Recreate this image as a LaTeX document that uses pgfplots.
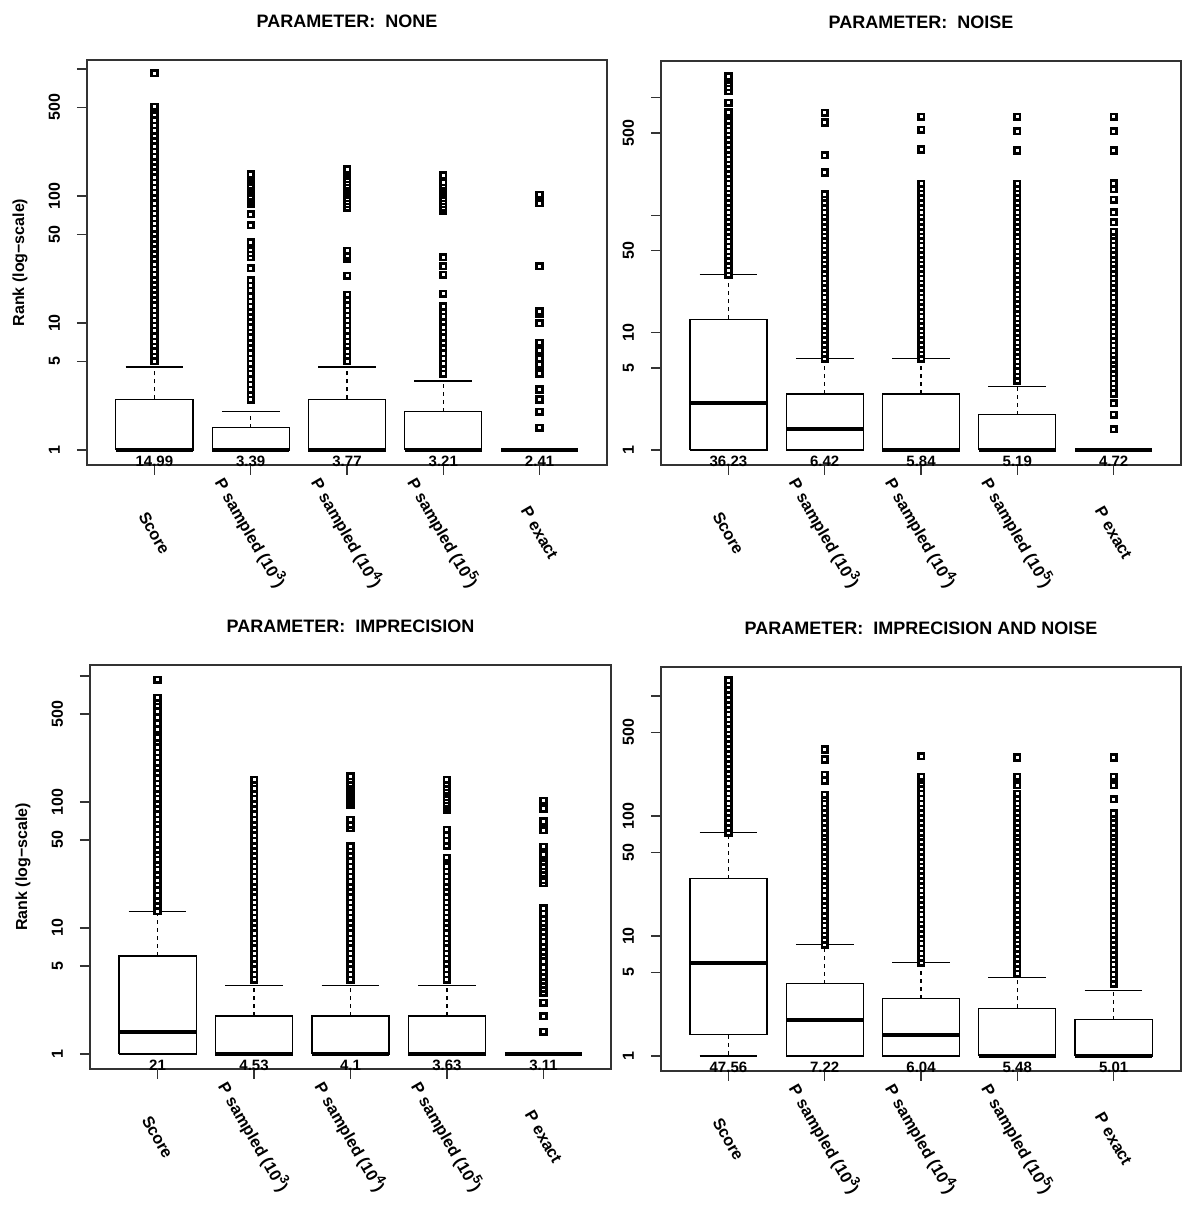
\documentclass[border=0pt]{standalone}
\usepackage{fontspec}
\setmainfont{Liberation Sans}
\usepackage{pgfplots}
\pgfplotsset{compat=1.18}
\newcommand\fs[1]{\bfseries\fontsize{#1}{#1}\selectfont}
\newcommand\supx[1]{\raisebox{0.45em}{\fontsize{6.5}{6.5}\selectfont #1}}
\pgfplotsset{
  rkax/.style={scale only axis, xmin=0.3, xmax=5.7, xtick={1,2,3,4,5},
    xticklabels={Score, P sampled (10\supx{3}), P sampled (10\supx{4}), P sampled (10\supx{5}), P exact},
    ytick={1,5,10,50,100,500,1000},
    yminorticks=false, tick align=outside, major tick length=5pt,
    xtick pos=left, ytick pos=left,
    axis line style={line width=0.6pt, black!80},
    major tick style={line width=0.6pt, black!80},
    xticklabel style={yshift=-29pt, rotate=-60, anchor=center, font=\fs{8.2}},
    yticklabel style={xshift=-5pt, rotate=90, anchor=south, font=\fs{8}},
    clip=false},
  outl/.style={only marks, mark=square*, mark size=1.4pt, mark options={fill=white, draw=black, line width=1.3pt, solid}},
  bxs/.style={black, line width=0.6pt, solid, mark=none},
  med/.style={black, line width=2pt, mark=none},
  whs/.style={black, line width=0.6pt, mark=none, dash pattern=on 2pt off 2pt},
}
\newcommand\means[5]{%
  \node[font=\fs{7.5}, yshift=-5.5pt] at (axis cs:1,1) {#1};
  \node[font=\fs{7.5}, yshift=-5.5pt] at (axis cs:2,1) {#2};
  \node[font=\fs{7.5}, yshift=-5.5pt] at (axis cs:3,1) {#3};
  \node[font=\fs{7.5}, yshift=-5.5pt] at (axis cs:4,1) {#4};
  \node[font=\fs{7.5}, yshift=-5.5pt] at (axis cs:5,1) {#5};
}
\newcommand\ttl[1]{\node[font=\fs{9}, yshift=19.5pt] at (rel axis cs:0.5,1) {#1};}
\newcommand\ylab{\node[font=\fs{8}, xshift=-33.5pt, rotate=90] at (rel axis cs:0,0.5) {Rank (log−scale)};}
\begin{document}
\begin{tikzpicture}
% ---------------- top left: NONE
\begin{axis}[rkax, ymode=log, at={(43.5pt,372pt)}, anchor=south west, width=260pt, height=202.5pt,
  ymin=0.762, ymax=1178, yticklabels={1,5,10,50,100,500,{}}]
\addplot[whs] coordinates {(1,2.5) (1,4.5)};
\addplot[bxs] coordinates {(0.7,4.5) (1.3,4.5)};
\addplot[bxs] coordinates {(0.6,1) (1.4,1) (1.4,2.5) (0.6,2.5) (0.6,1)};
\addplot[med] coordinates {(0.6,1) (1.4,1)};
\addplot[whs] coordinates {(2,1.5) (2,2)};
\addplot[bxs] coordinates {(1.7,2) (2.3,2)};
\addplot[bxs] coordinates {(1.6,1) (2.4,1) (2.4,1.5) (1.6,1.5) (1.6,1)};
\addplot[med] coordinates {(1.6,1) (2.4,1)};
\addplot[whs] coordinates {(3,2.5) (3,4.5)};
\addplot[bxs] coordinates {(2.7,4.5) (3.3,4.5)};
\addplot[bxs] coordinates {(2.6,1) (3.4,1) (3.4,2.5) (2.6,2.5) (2.6,1)};
\addplot[med] coordinates {(2.6,1) (3.4,1)};
\addplot[whs] coordinates {(4,2) (4,3.5)};
\addplot[bxs] coordinates {(3.7,3.5) (4.3,3.5)};
\addplot[bxs] coordinates {(3.6,1) (4.4,1) (4.4,2) (3.6,2) (3.6,1)};
\addplot[med] coordinates {(3.6,1) (4.4,1)};
\addplot[med] coordinates {(4.6,1) (5.4,1)};
\addplot[outl] coordinates {(1,5) (1,5.5) (1,6) (1,6.6) (1,7.2) (1,7.9) (1,8.7) (1,9.6) (1,10.5) (1,11.5) (1,12.6) (1,13.8) (1,15.2) (1,16.7) (1,18.3) (1,20) (1,22) (1,24) (1,26.5) (1,29) (1,32) (1,35) (1,38.5) (1,42) (1,46) (1,50.5) (1,55.5) (1,61) (1,67) (1,73) (1,80) (1,88) (1,97) (1,106) (1,117) (1,128) (1,141) (1,155) (1,170) (1,187) (1,205) (1,225) (1,247) (1,272) (1,298) (1,328) (1,360) (1,395) (1,435) (1,478) (1,505) (1,930)};
\addplot[outl] coordinates {(2,2.5) (2,2.75) (2,3) (2,3.3) (2,3.6) (2,4) (2,4.4) (2,4.8) (2,5.3) (2,5.8) (2,6.4) (2,7) (2,7.7) (2,8.5) (2,9.3) (2,10.2) (2,11.2) (2,12.3) (2,13.5) (2,14.8) (2,16.3) (2,18) (2,19.8) (2,21.8) (2,27) (2,33) (2,35.5) (2,38) (2,41) (2,43) (2,59) (2,72) (2,86) (2,90) (2,95) (2,100) (2,105) (2,110) (2,116) (2,122) (2,128) (2,135) (2,142) (2,149)};
\addplot[outl] coordinates {(3,5) (3,5.5) (3,6) (3,6.6) (3,7.2) (3,7.9) (3,8.7) (3,9.6) (3,10.5) (3,11.5) (3,12.6) (3,13.8) (3,15.2) (3,16.7) (3,23.5) (3,32) (3,34) (3,37) (3,81) (3,86) (3,91) (3,96) (3,102) (3,108) (3,114) (3,121) (3,128) (3,136) (3,144) (3,153) (3,162)};
\addplot[outl] coordinates {(4,4) (4,4.4) (4,4.8) (4,5.3) (4,5.8) (4,6.4) (4,7) (4,7.7) (4,8.5) (4,9.3) (4,10.2) (4,11.2) (4,12.4) (4,13.5) (4,17) (4,24) (4,28) (4,33) (4,77) (4,81) (4,86) (4,91) (4,96) (4,102) (4,108) (4,114) (4,121) (4,128) (4,146)};
\addplot[outl] coordinates {(5,1.5) (5,2) (5,2.5) (5,3) (5,4) (5,4.7) (5,5.3) (5,6.1) (5,7) (5,10) (5,11.9) (5,12.4) (5,28) (5,88) (5,102)};
\means{14.99}{3.39}{3.77}{3.21}{2.41}
\ttl{PARAMETER:\ \ NONE}
\ylab
\end{axis}
% ---------------- top right: NOISE
\begin{axis}[rkax, ymode=log, at={(330.5pt,372pt)}, anchor=south west, width=260pt, height=202pt,
  ymin=0.745, ymax=2057, yticklabels={1,5,10,50,{},500,{}}]
\addplot[whs] coordinates {(1,13) (1,31)};
\addplot[bxs] coordinates {(0.7,31) (1.3,31)};
\addplot[bxs] coordinates {(0.6,1) (1.4,1) (1.4,13) (0.6,13) (0.6,1)};
\addplot[med] coordinates {(0.6,2.5) (1.4,2.5)};
\addplot[whs] coordinates {(2,3) (2,6)};
\addplot[bxs] coordinates {(1.7,6) (2.3,6)};
\addplot[bxs] coordinates {(1.6,1) (2.4,1) (2.4,3) (1.6,3) (1.6,1)};
\addplot[med] coordinates {(1.6,1.5) (2.4,1.5)};
\addplot[whs] coordinates {(3,3) (3,6)};
\addplot[bxs] coordinates {(2.7,6) (3.3,6)};
\addplot[bxs] coordinates {(2.6,1) (3.4,1) (3.4,3) (2.6,3) (2.6,1)};
\addplot[med] coordinates {(2.6,1) (3.4,1)};
\addplot[whs] coordinates {(4,2) (4,3.5)};
\addplot[bxs] coordinates {(3.7,3.5) (4.3,3.5)};
\addplot[bxs] coordinates {(3.6,1) (4.4,1) (4.4,2) (3.6,2) (3.6,1)};
\addplot[med] coordinates {(3.6,1) (4.4,1)};
\addplot[med] coordinates {(4.6,1) (5.4,1)};
\addplot[outl] coordinates {(1,31) (1,34) (1,37.5) (1,41) (1,45) (1,49.5) (1,54.5) (1,60) (1,66) (1,72.5) (1,80) (1,88) (1,97) (1,106) (1,117) (1,128) (1,141) (1,155) (1,170) (1,187) (1,206) (1,226) (1,249) (1,273) (1,300) (1,330) (1,363) (1,400) (1,440) (1,483) (1,530) (1,585) (1,640) (1,705) (1,750) (1,908) (1,1140) (1,1230) (1,1330) (1,1430) (1,1520)};
\addplot[outl] coordinates {(2,6) (2,6.6) (2,7.2) (2,7.9) (2,8.7) (2,9.6) (2,10.5) (2,11.5) (2,12.6) (2,13.8) (2,15.2) (2,16.7) (2,18.3) (2,20) (2,22) (2,24) (2,26.5) (2,29) (2,32) (2,35) (2,38.5) (2,42) (2,46) (2,50.5) (2,55.5) (2,61) (2,67) (2,73) (2,80) (2,88) (2,97) (2,106) (2,117) (2,128) (2,141) (2,151) (2,231) (2,324) (2,616) (2,746)};
\addplot[outl] coordinates {(3,6) (3,6.6) (3,7.2) (3,7.9) (3,8.7) (3,9.6) (3,10.5) (3,11.5) (3,12.6) (3,13.8) (3,15.2) (3,16.7) (3,18.3) (3,20) (3,22) (3,24) (3,26.5) (3,29) (3,32) (3,35) (3,38.5) (3,42) (3,46) (3,50.5) (3,55.5) (3,61) (3,67) (3,73) (3,80) (3,88) (3,97) (3,106) (3,117) (3,128) (3,141) (3,155) (3,170) (3,185) (3,363) (3,532) (3,690)};
\addplot[outl] coordinates {(4,3.9) (4,4.3) (4,4.7) (4,5.2) (4,5.7) (4,6.3) (4,6.9) (4,7.6) (4,8.3) (4,9.1) (4,10) (4,11) (4,12.1) (4,13.3) (4,14.6) (4,16) (4,17.6) (4,19.4) (4,21.3) (4,23.4) (4,25.7) (4,28.3) (4,31) (4,34) (4,37.5) (4,41) (4,45) (4,49.5) (4,54.5) (4,60) (4,66) (4,72.5) (4,80) (4,88) (4,97) (4,106) (4,117) (4,128) (4,141) (4,155) (4,170) (4,185) (4,355) (4,520) (4,690)};
\addplot[outl] coordinates {(5,1.5) (5,2) (5,2.5) (5,3) (5,3.4) (5,3.7) (5,4.1) (5,4.5) (5,4.9) (5,5.4) (5,5.9) (5,6.5) (5,7.1) (5,7.8) (5,8.6) (5,9.4) (5,10.3) (5,11.3) (5,12.4) (5,13.6) (5,15) (5,16.5) (5,18) (5,20) (5,22) (5,24) (5,26.5) (5,29) (5,32) (5,35) (5,38.5) (5,42) (5,46) (5,50.5) (5,55.5) (5,61) (5,67) (5,72) (5,87) (5,106) (5,135) (5,166) (5,186) (5,355) (5,520) (5,690)};
\means{36.23}{6.42}{5.84}{5.19}{4.72}
\ttl{PARAMETER:\ \ NOISE}
\end{axis}
% ---------------- bottom left: IMPRECISION
\begin{axis}[rkax, ymode=log, at={(45pt,70pt)}, anchor=south west, width=260.5pt, height=202pt,
  ymin=0.76, ymax=1222, yticklabels={1,5,10,50,100,500,{}}]
\addplot[whs] coordinates {(1,6) (1,13.6)};
\addplot[bxs] coordinates {(0.7,13.6) (1.3,13.6)};
\addplot[bxs] coordinates {(0.6,1) (1.4,1) (1.4,6) (0.6,6) (0.6,1)};
\addplot[med] coordinates {(0.6,1.5) (1.4,1.5)};
\addplot[whs] coordinates {(2,2) (2,3.5)};
\addplot[bxs] coordinates {(1.7,3.5) (2.3,3.5)};
\addplot[bxs] coordinates {(1.6,1) (2.4,1) (2.4,2) (1.6,2) (1.6,1)};
\addplot[med] coordinates {(1.6,1) (2.4,1)};
\addplot[whs] coordinates {(3,2) (3,3.5)};
\addplot[bxs] coordinates {(2.7,3.5) (3.3,3.5)};
\addplot[bxs] coordinates {(2.6,1) (3.4,1) (3.4,2) (2.6,2) (2.6,1)};
\addplot[med] coordinates {(2.6,1) (3.4,1)};
\addplot[whs] coordinates {(4,2) (4,3.5)};
\addplot[bxs] coordinates {(3.7,3.5) (4.3,3.5)};
\addplot[bxs] coordinates {(3.6,1) (4.4,1) (4.4,2) (3.6,2) (3.6,1)};
\addplot[med] coordinates {(3.6,1) (4.4,1)};
\addplot[med] coordinates {(4.6,1) (5.4,1)};
\addplot[outl] coordinates {(1,13.6) (1,15) (1,16.5) (1,18) (1,20) (1,22) (1,24) (1,26.5) (1,29) (1,32) (1,35) (1,38.5) (1,42) (1,46) (1,50.5) (1,55.5) (1,61) (1,67) (1,73) (1,80) (1,88) (1,97) (1,106) (1,117) (1,128) (1,141) (1,155) (1,170) (1,187) (1,206) (1,226) (1,249) (1,273) (1,300) (1,322) (1,375) (1,420) (1,470) (1,520) (1,580) (1,630) (1,670) (1,935)};
\addplot[outl] coordinates {(2,3.9) (2,4.3) (2,4.7) (2,5.2) (2,5.7) (2,6.3) (2,6.9) (2,7.6) (2,8.3) (2,9.1) (2,10) (2,11) (2,12.1) (2,13.3) (2,14.6) (2,16) (2,17.6) (2,19.4) (2,21.3) (2,23.4) (2,25.7) (2,28.3) (2,31) (2,34) (2,37.5) (2,41) (2,45) (2,49.5) (2,54.5) (2,60) (2,66) (2,72.5) (2,80) (2,88) (2,97) (2,106) (2,117) (2,128) (2,141) (2,150)};
\addplot[outl] coordinates {(3,3.9) (3,4.3) (3,4.7) (3,5.2) (3,5.7) (3,6.3) (3,6.9) (3,7.6) (3,8.3) (3,9.1) (3,10) (3,11) (3,12.1) (3,13.3) (3,14.6) (3,16) (3,17.6) (3,19.4) (3,21.3) (3,23.4) (3,25.7) (3,28.3) (3,31) (3,34) (3,37.5) (3,41) (3,44.5) (3,62) (3,66) (3,72) (3,95) (3,100) (3,106) (3,112) (3,118) (3,125) (3,132) (3,140) (3,150) (3,160)};
\addplot[outl] coordinates {(4,3.9) (4,4.3) (4,4.7) (4,5.2) (4,5.7) (4,6.3) (4,6.9) (4,7.6) (4,8.3) (4,9.1) (4,10) (4,11) (4,12.1) (4,13.3) (4,14.6) (4,16) (4,17.6) (4,19.4) (4,21.3) (4,23.4) (4,25.7) (4,28.3) (4,31) (4,36) (4,45) (4,49.5) (4,54.5) (4,60) (4,87) (4,92) (4,97) (4,103) (4,109) (4,116) (4,123) (4,131) (4,140) (4,150)};
\addplot[outl] coordinates {(5,1.5) (5,2) (5,2.54) (5,3.05) (5,3.3) (5,3.55) (5,3.8) (5,4.1) (5,4.5) (5,4.9) (5,5.4) (5,6) (5,6.5) (5,7.1) (5,7.8) (5,8.6) (5,9.3) (5,10.2) (5,11) (5,12) (5,13) (5,14.4) (5,22.7) (5,24) (5,26) (5,27.3) (5,29) (5,31) (5,33.7) (5,36) (5,38) (5,42.5) (5,44) (5,59.6) (5,70) (5,88) (5,102)};
\means{21}{4.53}{4.1}{3.63}{3.11}
\ttl{PARAMETER:\ \ IMPRECISION}
\ylab
\end{axis}
% ---------------- bottom right: IMPRECISION AND NOISE
\begin{axis}[rkax, ymode=log, at={(330.5pt,69pt)}, anchor=south west, width=260pt, height=202pt,
  ymin=0.75, ymax=1746, yticklabels={1,5,10,50,100,500,{}}]
\addplot[whs] coordinates {(1,30) (1,73)};
\addplot[bxs] coordinates {(0.7,73) (1.3,73)};
\addplot[whs] coordinates {(1,1.5) (1,1)};
\addplot[bxs] coordinates {(0.7,1) (1.3,1)};
\addplot[bxs] coordinates {(0.6,1.5) (1.4,1.5) (1.4,30) (0.6,30) (0.6,1.5)};
\addplot[med] coordinates {(0.6,6) (1.4,6)};
\addplot[whs] coordinates {(2,4) (2,8.5)};
\addplot[bxs] coordinates {(1.7,8.5) (2.3,8.5)};
\addplot[bxs] coordinates {(1.6,1) (2.4,1) (2.4,4) (1.6,4) (1.6,1)};
\addplot[med] coordinates {(1.6,2) (2.4,2)};
\addplot[whs] coordinates {(3,3) (3,6)};
\addplot[bxs] coordinates {(2.7,6) (3.3,6)};
\addplot[bxs] coordinates {(2.6,1) (3.4,1) (3.4,3) (2.6,3) (2.6,1)};
\addplot[med] coordinates {(2.6,1.5) (3.4,1.5)};
\addplot[whs] coordinates {(4,2.5) (4,4.5)};
\addplot[bxs] coordinates {(3.7,4.5) (4.3,4.5)};
\addplot[bxs] coordinates {(3.6,1) (4.4,1) (4.4,2.5) (3.6,2.5) (3.6,1)};
\addplot[med] coordinates {(3.6,1) (4.4,1)};
\addplot[whs] coordinates {(5,2) (5,3.5)};
\addplot[bxs] coordinates {(4.7,3.5) (5.3,3.5)};
\addplot[bxs] coordinates {(4.6,1) (5.4,1) (5.4,2) (4.6,2) (4.6,1)};
\addplot[med] coordinates {(4.6,1) (5.4,1)};
\addplot[outl] coordinates {(1,73) (1,80) (1,88) (1,97) (1,106) (1,117) (1,128) (1,141) (1,155) (1,170) (1,187) (1,206) (1,226) (1,249) (1,273) (1,300) (1,330) (1,363) (1,400) (1,440) (1,483) (1,530) (1,585) (1,640) (1,705) (1,775) (1,850) (1,935) (1,1030) (1,1130) (1,1240) (1,1360)};
\addplot[outl] coordinates {(2,8.5) (2,9.3) (2,10.2) (2,11.2) (2,12.3) (2,13.5) (2,14.8) (2,16.3) (2,18) (2,19.8) (2,21.8) (2,24) (2,26.5) (2,29) (2,32) (2,35) (2,38.5) (2,42) (2,46) (2,50.5) (2,55.5) (2,61) (2,67) (2,73) (2,80) (2,88) (2,97) (2,106) (2,117) (2,128) (2,141) (2,150) (2,197) (2,220) (2,296) (2,359)};
\addplot[outl] coordinates {(3,6) (3,6.6) (3,7.2) (3,7.9) (3,8.7) (3,9.6) (3,10.5) (3,11.5) (3,12.6) (3,13.8) (3,15.2) (3,16.7) (3,18.3) (3,20) (3,22) (3,24) (3,26.5) (3,29) (3,32) (3,35) (3,38.5) (3,42) (3,46) (3,50.5) (3,55.5) (3,61) (3,67) (3,73) (3,80) (3,88) (3,97) (3,106) (3,117) (3,128) (3,141) (3,155) (3,170) (3,187) (3,200) (3,213) (3,316)};
\addplot[outl] coordinates {(4,4.9) (4,5.4) (4,5.9) (4,6.5) (4,7.1) (4,7.8) (4,8.6) (4,9.4) (4,10.3) (4,11.3) (4,12.4) (4,13.6) (4,15) (4,16.5) (4,18) (4,20) (4,22) (4,24) (4,26.5) (4,29) (4,32) (4,35) (4,38.5) (4,42) (4,46) (4,50.5) (4,55.5) (4,61) (4,67) (4,73) (4,80) (4,88) (4,97) (4,106) (4,117) (4,128) (4,141) (4,153) (4,181) (4,213) (4,308)};
\addplot[outl] coordinates {(5,4) (5,4.4) (5,4.8) (5,5.3) (5,5.8) (5,6.4) (5,7) (5,7.7) (5,8.5) (5,9.3) (5,10.2) (5,11.2) (5,12.3) (5,13.5) (5,14.8) (5,16.3) (5,18) (5,19.8) (5,21.8) (5,24) (5,26.5) (5,29) (5,32) (5,35) (5,38.5) (5,42) (5,46) (5,50.5) (5,55.5) (5,61) (5,67) (5,73) (5,80) (5,88) (5,97) (5,105) (5,138) (5,181) (5,213) (5,308)};
\means{47.56}{7.22}{6.04}{5.48}{5.01}
\ttl{PARAMETER:\ \ IMPRECISION AND NOISE}
\end{axis}
\pgfresetboundingbox
\path[use as bounding box] (0,0) rectangle (600pt,604.5pt);
\end{tikzpicture}
\end{document}
